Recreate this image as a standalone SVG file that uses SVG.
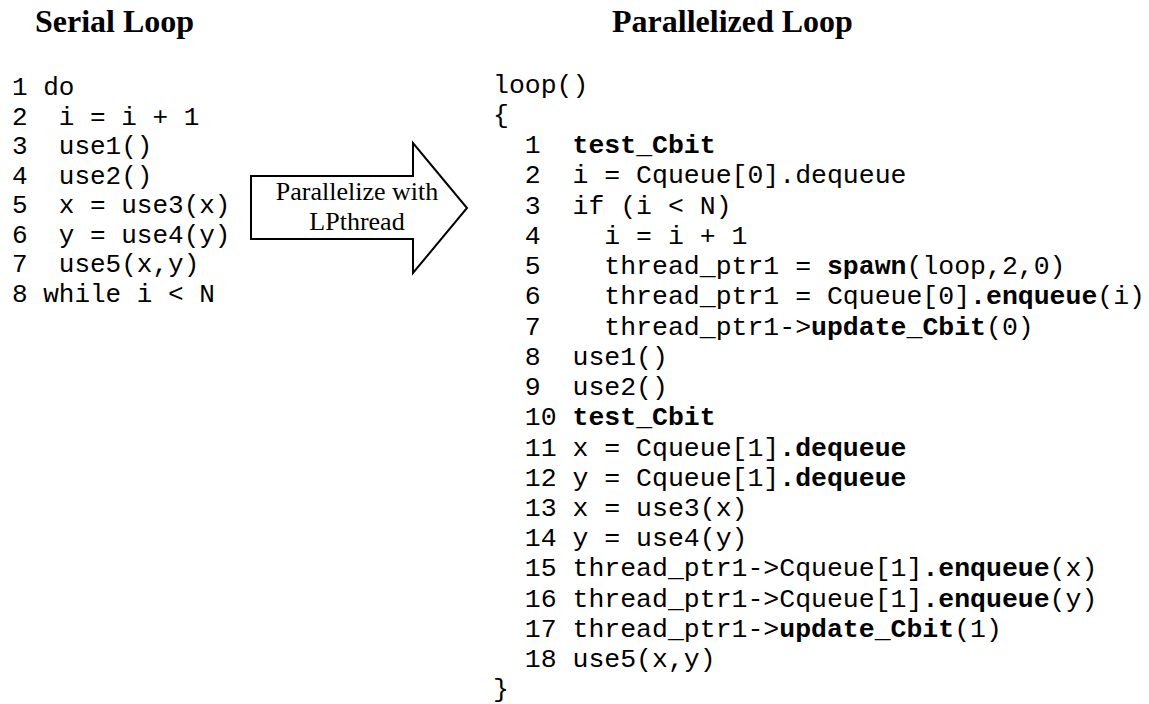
<svg xmlns="http://www.w3.org/2000/svg" width="1149" height="704" viewBox="0 0 1149 704">
<style>
  .title { font-family: "Liberation Serif", "Times New Roman", serif; font-weight: bold; font-size: 32px; fill: #000; }
  .codeL { font-family: "Liberation Mono", "Courier New", monospace; font-size: 26px; fill: #000; white-space: pre; }
  .codeR { font-family: "Liberation Mono", "Courier New", monospace; font-size: 26.5px; fill: #000; white-space: pre; }
  .b { font-weight: bold; }
  .lbl { font-family: "Liberation Serif", "Times New Roman", serif; font-size: 26px; fill: #000; text-anchor: middle; }
  .blk { fill: #fff; stroke: #000; stroke-width: 2; stroke-linejoin: miter; }
</style>
<rect width="1149" height="704" fill="#fff"/>

<g id="serial-title">
  <text class="title" x="35" y="32">Serial Loop</text>
</g>

<g id="serial-code">
  <text class="codeL" xml:space="preserve" x="12" y="95">1 do</text>
  <text class="codeL" xml:space="preserve" x="12" y="124.5">2  i = i + 1</text>
  <text class="codeL" xml:space="preserve" x="12" y="154">3  use1()</text>
  <text class="codeL" xml:space="preserve" x="12" y="183.5">4  use2()</text>
  <text class="codeL" xml:space="preserve" x="12" y="213">5  x = use3(x)</text>
  <text class="codeL" xml:space="preserve" x="12" y="242.5">6  y = use4(y)</text>
  <text class="codeL" xml:space="preserve" x="12" y="272">7  use5(x,y)</text>
  <text class="codeL" xml:space="preserve" x="12" y="301.5">8 while i &lt; N</text>
</g>

<g id="connectors">
  <g id="parallelize-arrow">
    <polygon class="blk" points="251,176 413,176 413,143 467,208 413,273 413,239 251,239"/>
    <text class="lbl" x="357" y="200">Parallelize with</text>
    <text class="lbl" x="357" y="230">LPthread</text>
  </g>
</g>

<g id="parallel-title">
  <text class="title" x="612" y="32">Parallelized Loop</text>
</g>

<g id="parallel-code">
  <text class="codeR" xml:space="preserve" x="493" y="92.6">loop()</text>
  <text class="codeR" xml:space="preserve" x="493" y="122.8">{</text>
  <text class="codeR" xml:space="preserve" x="493" y="153.1">  1  <tspan class="b">test_Cbit</tspan></text>
  <text class="codeR" xml:space="preserve" x="493" y="183.3">  2  i = Cqueue[0].dequeue</text>
  <text class="codeR" xml:space="preserve" x="493" y="213.6">  3  if (i &lt; N)</text>
  <text class="codeR" xml:space="preserve" x="493" y="243.8">  4    i = i + 1</text>
  <text class="codeR" xml:space="preserve" x="493" y="274.0">  5    thread_ptr1 = <tspan class="b">spawn</tspan>(loop,2,0)</text>
  <text class="codeR" xml:space="preserve" x="493" y="304.3">  6    thread_ptr1 = Cqueue[0]<tspan class="b">.enqueue</tspan>(i)</text>
  <text class="codeR" xml:space="preserve" x="493" y="334.5">  7    thread_ptr1-&gt;<tspan class="b">update_Cbit</tspan>(0)</text>
  <text class="codeR" xml:space="preserve" x="493" y="364.8">  8  use1()</text>
  <text class="codeR" xml:space="preserve" x="493" y="395.0">  9  use2()</text>
  <text class="codeR" xml:space="preserve" x="493" y="425.2">  10 <tspan class="b">test_Cbit</tspan></text>
  <text class="codeR" xml:space="preserve" x="493" y="455.5">  11 x = Cqueue[1]<tspan class="b">.dequeue</tspan></text>
  <text class="codeR" xml:space="preserve" x="493" y="485.7">  12 y = Cqueue[1]<tspan class="b">.dequeue</tspan></text>
  <text class="codeR" xml:space="preserve" x="493" y="516.0">  13 x = use3(x)</text>
  <text class="codeR" xml:space="preserve" x="493" y="546.2">  14 y = use4(y)</text>
  <text class="codeR" xml:space="preserve" x="493" y="576.4">  15 thread_ptr1-&gt;Cqueue[1]<tspan class="b">.enqueue</tspan>(x)</text>
  <text class="codeR" xml:space="preserve" x="493" y="606.7">  16 thread_ptr1-&gt;Cqueue[1]<tspan class="b">.enqueue</tspan>(y)</text>
  <text class="codeR" xml:space="preserve" x="493" y="636.9">  17 thread_ptr1-&gt;<tspan class="b">update_Cbit</tspan>(1)</text>
  <text class="codeR" xml:space="preserve" x="493" y="667.2">  18 use5(x,y)</text>
  <text class="codeR" xml:space="preserve" x="493" y="697.4">}</text>
</g>
</svg>
